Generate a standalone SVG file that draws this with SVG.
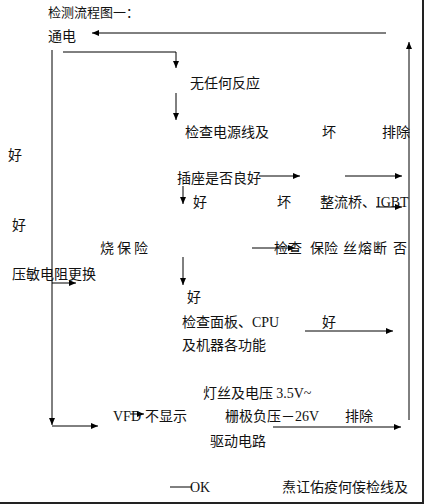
<svg xmlns="http://www.w3.org/2000/svg" width="424" height="504" viewBox="0 0 424 504">
<style>
text{font-family:"Noto Sans CJK SC","Liberation Sans",sans-serif;font-size:14px;fill:#111}
.s{font-family:"Liberation Serif","Noto Sans CJK SC",serif}
.c line,.c polyline{stroke:#000;stroke-width:1;fill:none}
.a{marker-end:url(#ah)}
</style>
<defs>
<marker id="ah" markerUnits="userSpaceOnUse" markerWidth="8" markerHeight="6" refX="7" refY="3" orient="auto"><path d="M0,0 L7,3 L0,6 z" fill="#000"/></marker>
</defs>
<rect width="424" height="504" fill="#fff"/>
<g id="frame" stroke="#222" stroke-width="2"><line x1="423" y1="0" x2="423" y2="504"/><line x1="0" y1="503" x2="424" y2="503"/></g>
<g class="c" id="connectors">
<line class="a" x1="386" y1="33" x2="92" y2="33"/>
<polyline class="a" points="63,52 176,52 176,68"/>
<line class="a" x1="176" y1="93" x2="176" y2="120"/>
<line class="a" x1="259" y1="176" x2="300" y2="176"/>
<line class="a" x1="345" y1="176" x2="402" y2="176"/>
<line class="a" x1="183" y1="186" x2="183" y2="204"/>
<line class="a" x1="376" y1="207" x2="402" y2="207"/>
<line class="a" x1="252" y1="248" x2="295" y2="248"/>
<line class="a" x1="183" y1="257" x2="183" y2="285"/>
<line class="a" x1="52" y1="283" x2="76" y2="283"/>
<line class="a" x1="305" y1="331" x2="393" y2="331"/>
<line class="a" x1="52" y1="50" x2="52" y2="425"/>
<line class="a" x1="52" y1="426" x2="98" y2="426"/>
<line class="a" x1="130" y1="414" x2="144" y2="414"/>
<line class="a" x1="273" y1="427" x2="401" y2="427"/>
<line class="a" x1="409" y1="420" x2="409" y2="42"/>
<line x1="170" y1="487" x2="192" y2="487"/>
</g>
<g id="title"><text x="48" y="17" style="font-size:13px">检测流程图一：</text></g>
<g id="n-power"><text x="48" y="41">通电</text></g>
<g id="n-noresp"><text x="190" y="88">无任何反应</text></g>
<g id="n-checkline"><text x="185" y="137">检查电源线及</text><text x="322" y="137">坏</text><text x="382" y="137">排除</text></g>
<g id="n-good1"><text x="8" y="160">好</text></g>
<g id="n-socket"><text x="177" y="183">插座是否良好</text></g>
<g id="n-row2"><text x="193" y="207">好</text><text x="277" y="207">坏</text><text x="320" y="207">整流桥、<tspan class="s">IGBT</tspan></text></g>
<g id="n-good2"><text x="12" y="230">好</text></g>
<g id="n-fuse"><text x="100" y="253" style="letter-spacing:3px">烧保险</text></g>
<g id="n-checkfuse"><text x="274" y="253">检查</text><text x="310" y="253">保险</text><text x="343" y="253" style="letter-spacing:1px">丝熔断</text><text x="393" y="253">否</text></g>
<g id="n-varistor"><text x="12" y="279">压敏电阻更换</text></g>
<g id="n-good3"><text x="187" y="302">好</text></g>
<g id="n-panel"><text x="182" y="327">检查面板、<tspan class="s">CPU</tspan></text><text x="182" y="350">及机器各功能</text><text x="322" y="327">好</text></g>
<g id="n-vfd"><text x="203" y="398">灯丝及电压 <tspan class="s">3.5V~</tspan></text>
<text x="113" y="421"><tspan class="s">VFD</tspan><tspan x="145">不显示</tspan></text>
<text x="225" y="421">栅极负压－<tspan class="s">26V</tspan></text>
<text x="345" y="421">排除</text>
<text x="210" y="446">驱动电路</text></g>
<g id="n-ok"><text class="s" x="190" y="492">OK</text></g>
<g id="n-bottom"><text x="282" y="492">焘讧佑疫何侫检线及</text></g>
</svg>
